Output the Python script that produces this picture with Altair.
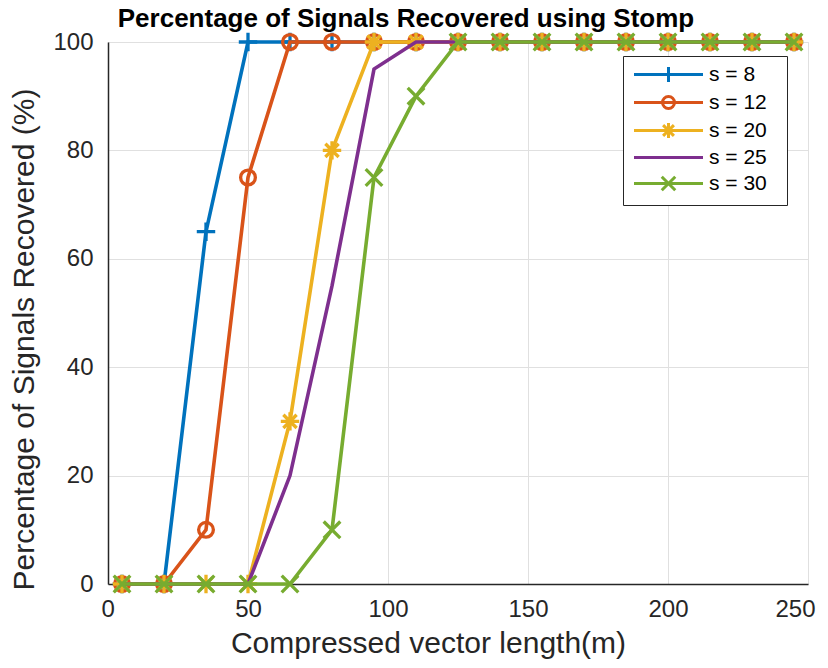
import altair as alt
import pandas as pd

# ---- data ----
x_vals = [5, 20, 35, 50, 65, 80, 95, 110, 125, 140, 155, 170, 185, 200, 215, 230, 245]
series_names = ["s = 8", "s = 12", "s = 20", "s = 25", "s = 30"]
s8 = [0, 0, 65, 100, 100, 100, 100, 100, 100, 100, 100, 100, 100, 100, 100, 100, 100]
s12 = [0, 0, 10, 75, 100, 100, 100, 100, 100, 100, 100, 100, 100, 100, 100, 100, 100]
s20 = [0, 0, 0, 0, 30, 80, 100, 100, 100, 100, 100, 100, 100, 100, 100, 100, 100]
s25 = [0, 0, 0, 0, 20, 55, 95, 100, 100, 100, 100, 100, 100, 100, 100, 100, 100]
s30 = [0, 0, 0, 0, 0, 10, 75, 90, 100, 100, 100, 100, 100, 100, 100, 100, 100]
series_values = [s8, s12, s20, s25, s30]
colors = ["#0072BD", "#D95319", "#EDB120", "#7E2F8E", "#77AC30"]
x_ticks = [0, 50, 100, 150, 200, 250]
y_ticks = [0, 20, 40, 60, 80, 100]

# marker glyphs (MATLAB style: +, o, *, none, x)
m_plus = "M-1,0L1,0M0,-1L0,1"
m_circle = "M-0.8,0A0.8,0.8,0,1,1,0.8,0A0.8,0.8,0,1,1,-0.8,0Z"
m_star = "M-1,0L1,0M0,-1L0,1M-0.72,-0.72L0.72,0.72M-0.72,0.72L0.72,-0.72"
m_none = "M0,0"
m_x = "M-0.9,-0.9L0.9,0.9M-0.9,0.9L0.9,-0.9"
markers = [m_plus, m_circle, m_star, m_none, m_x]
legend_line = "M-4.6,0L4.6,0"
legend_paths = [legend_line + m for m in markers]

rows = []
for name, vals, mk in zip(series_names, series_values, markers):
    for xv, yv in zip(x_vals, vals):
        rows.append({"series": name, "x": xv, "y": yv, "marker": mk})
df = pd.DataFrame(rows)

FONT = "Liberation Sans"
AX = "#262626"

color_scale = alt.Scale(domain=series_names, range=colors)
legend_def = alt.Legend(
    title="\u00a0", titleOrient="right", titlePadding=12, titleFontSize=4,
    orient="none", legendX=515, legendY=14,
    padding=8, symbolSize=225, symbolStrokeWidth=3, symbolOffset=27,
    labelOffset=30, labelFontSize=21, labelFont=FONT, labelColor="black",
    strokeColor=AX, fillColor="white", rowPadding=2, symbolFillColor="transparent",
)

x_enc = alt.X("x:Q", scale=alt.Scale(domain=[0, 250], nice=False),
              axis=alt.Axis(values=x_ticks, title="Compressed vector length(m)",
                            grid=True, gridColor="#e0e0e0", gridWidth=1,
                            domainColor=AX, domainWidth=1.5, ticks=False, tickSize=0,
                            labelPadding=13, labelFontSize=24, labelFlush=True,
                            labelFlushOffset=7,
                            labelFont=FONT, labelColor=AX, titleFont=FONT,
                            titleFontSize=30, titleFontWeight="normal", titleColor=AX,
                            titleX=320, titleY=68, titleBaseline="alphabetic"))
y_enc = alt.Y("y:Q", scale=alt.Scale(domain=[0, 100], nice=False),
              axis=alt.Axis(values=y_ticks, title="Percentage of Signals Recovered (%)",
                            grid=True, gridColor="#e0e0e0", gridWidth=1,
                            domainColor=AX, domainWidth=1.5, ticks=False, tickSize=0,
                            labelPadding=15, labelFontSize=24, labelFlush=False,
                            labelFont=FONT, labelColor=AX, titleFont=FONT,
                            titleFontSize=30, titleFontWeight="normal", titleColor=AX,
                            titleX=-75, titleY=297, titleBaseline="alphabetic",
                            titleAngle=270))

layers = []
for name in series_names:
    base = alt.Chart(df).transform_filter(alt.datum.series == name)
    line = base.mark_line(strokeWidth=3.6).encode(
        x=x_enc, y=y_enc,
        color=alt.Color("series:N", scale=color_scale, legend=legend_def))
    pts = base.mark_point(filled=False, size=340, strokeWidth=3.3, opacity=1).encode(
        x=x_enc, y=y_enc,
        color=alt.Color("series:N", scale=color_scale, legend=legend_def),
        shape=alt.Shape("marker:N", scale=None))
    layers += [line, pts]

legend_layer = alt.Chart(df).transform_filter("false").mark_point(
    filled=False, strokeWidth=3, opacity=1).encode(
    x=x_enc, y=y_enc,
    color=alt.Color("series:N", scale=color_scale, legend=legend_def),
    shape=alt.Shape("series:N", scale=alt.Scale(domain=series_names, range=legend_paths),
                    legend=legend_def))
layers.append(legend_layer)

chart = alt.layer(*layers).properties(
    width=700, height=542,
    title=alt.TitleParams("Percentage of Signals Recovered using Stomp", font=FONT,
                          fontSize=26, fontWeight="bold", color="black",
                          anchor="middle", frame="group", dx=-52, dy=17, offset=11),
    autosize=alt.AutoSizeParams(type="none"),
    padding={"left": 100, "top": 34, "right": 12, "bottom": 76},
).configure_view(stroke=None).configure(background="white")

chart.save("out.html", embed_options={"renderer": "svg", "actions": False})
